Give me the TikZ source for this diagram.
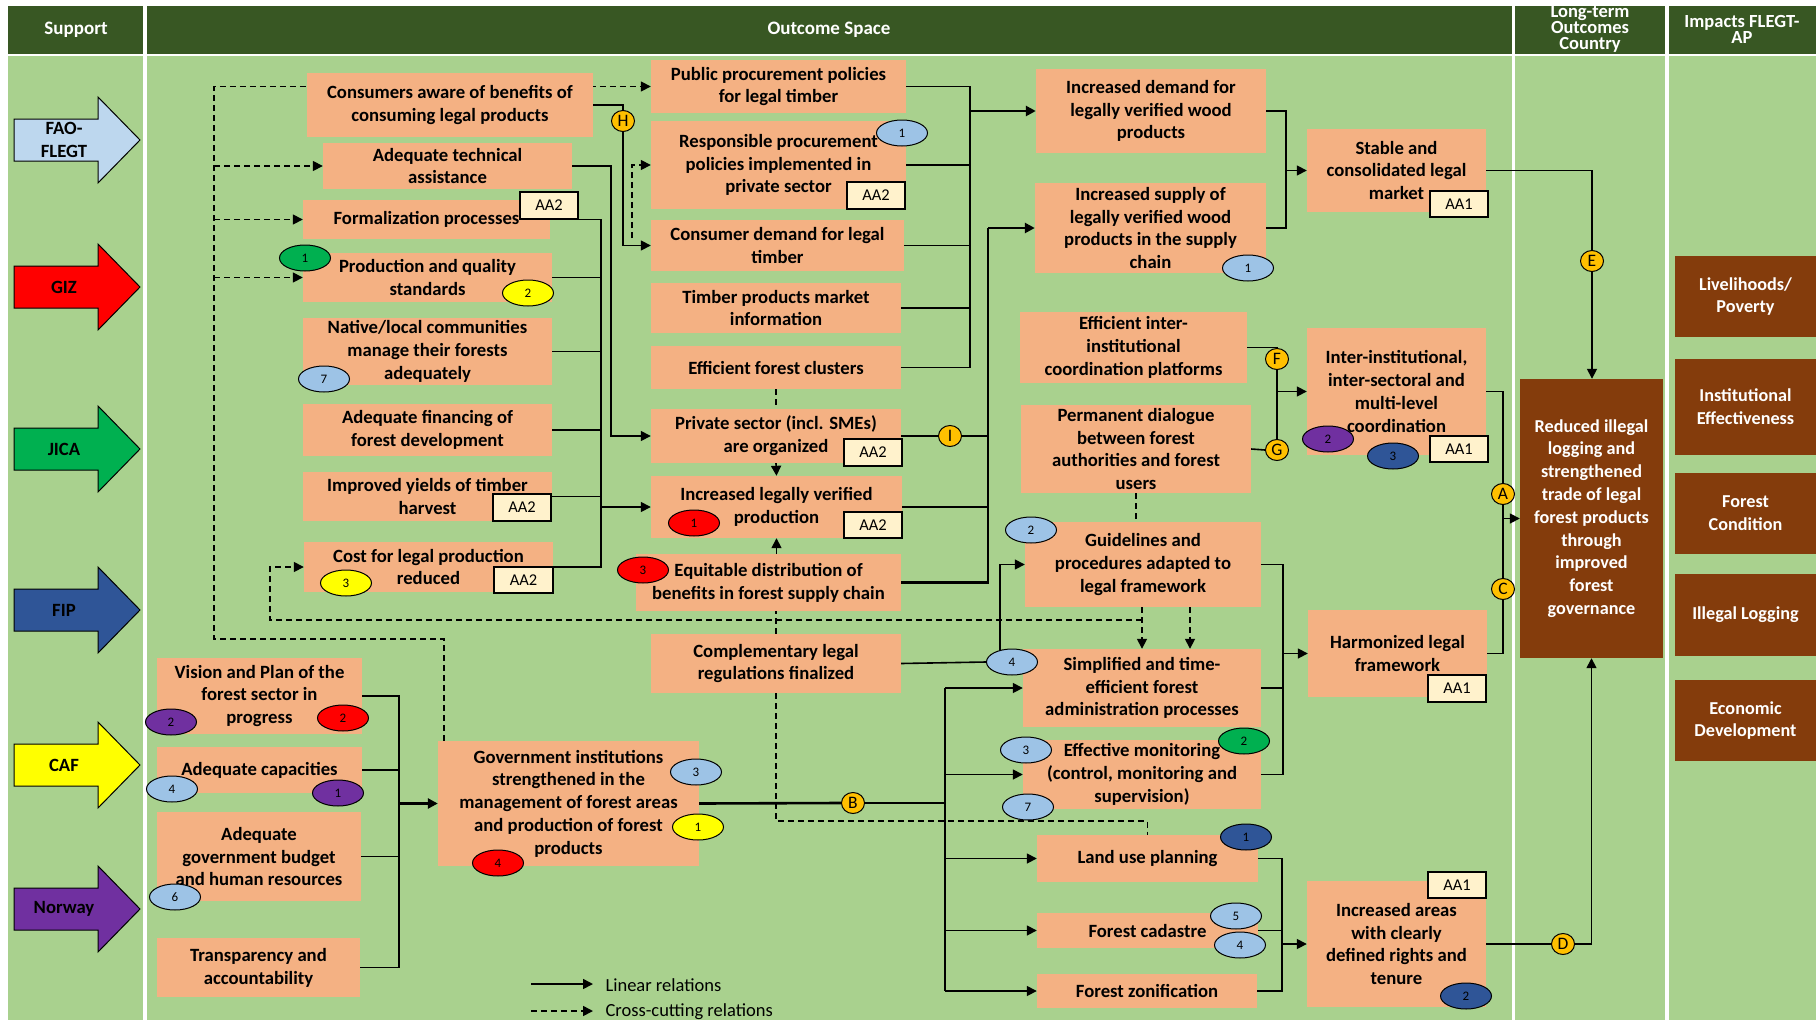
\documentclass[tikz,border=0pt]{standalone}
\usepackage{fontspec}
\setmainfont{Carlito}
\usetikzlibrary{arrows.meta,shapes.geometric,calc}
\definecolor{hdr}{HTML}{385723}
\definecolor{bodygreen}{HTML}{A9D18E}
\definecolor{salmon}{HTML}{F4B183}
\definecolor{brownbx}{HTML}{843C0C}
\definecolor{tagfill}{HTML}{FFF2CC}
\definecolor{faoblue}{HTML}{BDD7EE}
\definecolor{lb}{HTML}{9DC3E6}
\definecolor{gold}{HTML}{FFC000}
\definecolor{gizred}{HTML}{FF0000}
\definecolor{jicagreen}{HTML}{00B050}
\definecolor{fipblue}{HTML}{2F5597}
\definecolor{cafyellow}{HTML}{FFFF00}
\definecolor{norpurple}{HTML}{7030A0}
\pgfdeclarelayer{bg}
\pgfdeclarelayer{lines}
\pgfsetlayers{bg,lines,main}
\newcommand\bx[6]{\node[box,minimum width={#4-#2},minimum height={#5-#3}] (#1) at ({(#2+#4)/2},{(#3+#5)/2}) {#6};}
\newcommand\bb[6]{\node[brownbox,minimum width={#4-#2},minimum height={#5-#3}] (#1) at ({(#2+#4)/2},{(#3+#5)/2}) {#6};}
\newcommand\tg[6]{\node[tagbox,minimum width={#4-#2},minimum height={#5-#3}] (#1) at ({(#2+#4)/2},{(#3+#5)/2}) {#6};}
\newcommand\el[4]{\node[ell,fill=#2] (#1) at (#3) {#4};}
\newcommand\lt[3]{\node[ltr] (#1) at (#2) {#3};}
\newcommand\suparr[4]{%
  \fill[#3,draw=black,line width=1pt] (14,#2-21) -- (98,#2-21) -- (98,#2-43) -- (140,#2) -- (98,#2+43) -- (98,#2+21) -- (14,#2+21) -- cycle;
  \node[arrtext] (#1) at (64,#2) {#4};}
\begin{document}
\begin{tikzpicture}[x=1pt,y=-1pt,
  box/.style={fill=salmon,inner sep=0pt,align=center,text=black,font=\bfseries\fontsize{18.7}{22.8}\selectfont},
  brownbox/.style={fill=brownbx,inner sep=0pt,align=center,text=white,font=\bfseries\fontsize{18.2}{22.8}\selectfont},
  tagbox/.style={fill=tagfill,draw=black,line width=1.2pt,inner sep=0pt,font=\fontsize{16.5}{16}\selectfont},
  ell/.style={ellipse,draw=black,line width=1pt,minimum width=51pt,minimum height=26pt,inner sep=0pt,font=\fontsize{13}{13}\selectfont},
  ltr/.style={ellipse,draw=black,line width=1pt,fill=gold,minimum width=23pt,minimum height=21pt,inner sep=0pt,font=\fontsize{17.5}{17}\selectfont},
  hdrtext/.style={text=white,align=center,font=\bfseries\fontsize{19}{16}\selectfont},
  hdrsmall/.style={text=white,align=center,font=\bfseries\fontsize{18.5}{16}\selectfont},
  arrtext/.style={text=black,align=center,font=\bfseries\fontsize{18.7}{23}\selectfont},
  ln/.style={draw=black,line width=1.6pt},
  lnthick/.style={draw=black,line width=2.6pt},
  dl/.style={draw=black,line width=1.6pt,dash pattern=on 6pt off 4pt},
  arr/.style={-{Triangle[length=10pt,width=10pt]}},
  legtext/.style={text=black,font=\fontsize{18.5}{18}\selectfont}]
\useasboundingbox (0,0) rectangle (1816,1020);
\begin{pgfonlayer}{bg}
\fill[white] (0,0) rectangle (1816,1020);
\fill[hdr] (8,6) rectangle (143,54);
\fill[hdr] (147,6) rectangle (1512,54);
\fill[hdr] (1515,6) rectangle (1665,54);
\fill[hdr] (1669,6) rectangle (1816,54);
\fill[bodygreen] (8,56) rectangle (143,1020);
\fill[bodygreen] (147,56) rectangle (1512,1020);
\fill[bodygreen] (1515,56) rectangle (1665,1020);
\fill[bodygreen] (1669,56) rectangle (1816,1020);
\end{pgfonlayer}
% headers
\node[hdrtext] (hsup) at (76,30) {Support};
\node[hdrtext] (hout) at (829,30) {Outcome Space};
\node[hdrsmall] (hlong) at (1590,29) {Long-term\\Outcomes\\Country};
\node[hdrsmall] (himp) at (1742,29) {Impacts FLEGT-\\AP};
% support arrows
\suparr{sFAO}{140}{faoblue}{FAO-\\FLEGT}
\suparr{sGIZ}{287}{gizred}{GIZ}
\suparr{sJICA}{449}{jicagreen}{JICA}
\suparr{sFIP}{610}{fipblue}{FIP}
\suparr{sCAF}{765}{cafyellow}{CAF}
\suparr{sNOR}{909}{norpurple}{Norway}
% boxes
\bx{cons}{307}{73}{593}{137}{Consumers aware of benefits of\\consuming legal products}
\bx{adeqtech}{323}{143}{572}{189}{Adequate technical\\assistance}
\bx{formal}{303}{200}{550}{239}{Formalization processes}
\bx{prod}{303}{253}{552}{302}{Production and quality\\standards}
\bx{native}{303}{318}{552}{385}{Native/local communities\\manage their forests\\adequately}
\bx{fin}{303}{404}{552}{456}{Adequate financing of\\forest development}
\bx{yields}{303}{472}{552}{521}{Improved yields of timber\\harvest}
\bx{cost}{304}{542}{553}{592}{Cost for legal production\\reduced}
\bx{vision}{157}{658}{362}{734}{Vision and Plan of the\\forest sector in\\progress}
\bx{capac}{157}{747}{362}{793}{Adequate capacities}
\bx{budget}{157}{812}{361}{901}{Adequate\\government budget\\and human resources}
\bx{transp}{157}{938}{360}{997}{Transparency and\\accountability}
\bx{gov}{438}{741}{699}{866}{Government institutions\\strengthened in the\\management of forest areas\\and production of forest\\products}
\bx{pub}{651}{60}{906}{113}{Public procurement policies\\for legal timber}
\bx{resp}{651}{121}{906}{209}{Responsible procurement\\policies implemented in\\private sector}
\bx{cdem}{651}{220}{904}{271}{Consumer demand for legal\\timber}
\bx{timber}{651}{283}{901}{333}{Timber products market\\information}
\bx{clusters}{651}{346}{901}{389}{Efficient forest clusters}
\bx{privsec}{651}{409}{901}{463}{Private sector (incl. SMEs)\\are organized}
\bx{incprod}{651}{476}{902}{538}{Increased legally verified\\production}
\bx{equit}{636}{554}{901}{611}{Equitable distribution of\\benefits in forest supply chain}
\bx{comp}{651}{634}{901}{693}{Complementary legal\\regulations finalized}
\bx{incdem}{1036}{69}{1266}{153}{Increased demand for\\legally verified wood\\products}
\bx{incsup}{1035}{183}{1266}{273}{Increased supply of\\legally verified wood\\products in the supply\\chain}
\bx{stable}{1307}{129}{1486}{212}{Stable and\\consolidated legal\\market}
\bx{effint}{1020}{312}{1247}{383}{Efficient inter-\\institutional\\coordination platforms}
\bx{perm}{1021}{405}{1251}{493}{Permanent dialogue\\between forest\\authorities and forest\\users}
\bx{guide}{1025}{522}{1261}{607}{Guidelines and\\procedures adapted to\\legal framework}
\bx{simp}{1023}{649}{1261}{727}{Simplified and time-\\efficient forest\\administration processes}
\bx{effmon}{1023}{740}{1261}{809}{Effective monitoring\\(control, monitoring and\\supervision)}
\bx{land}{1037}{835}{1258}{882}{Land use planning}
\bx{cad}{1037}{913}{1258}{948}{Forest cadastre}
\bx{zon}{1037}{974}{1257}{1008}{Forest zonification}
\bx{inter}{1307}{328}{1486}{455}{Inter-institutional,\\inter-sectoral and\\multi-level\\coordination}
\bx{harm}{1308}{610}{1487}{697}{Harmonized legal\\framework}
\bx{incar}{1307}{881}{1486}{1007}{Increased areas\\with clearly\\defined rights and\\tenure}
\bb{reduced}{1520}{379}{1663}{658}{Reduced illegal\\logging and\\strengthened\\trade of legal\\forest products\\through\\improved\\forest\\governance}
\bb{imp1}{1675}{256}{1816}{337}{Livelihoods/\\Poverty}
\bb{imp2}{1675}{359}{1816}{455}{Institutional\\Effectiveness}
\bb{imp3}{1675}{473}{1816}{554}{Forest\\Condition}
\bb{imp4}{1675}{574}{1816}{656}{Illegal Logging}
\bb{imp5}{1675}{680}{1816}{761}{Economic\\Development}
% tags
\tg{tagF}{520}{192}{578}{219}{AA2}
\tg{tagR}{847}{182}{905}{209}{AA2}
\tg{tagY}{493}{494}{551}{521}{AA2}
\tg{tagC}{494}{567}{553}{593}{AA2}
\tg{tagP}{844}{439}{902}{466}{AA2}
\tg{tagI}{844}{512}{902}{538}{AA2}
\tg{tagS}{1430}{191}{1488}{217}{AA1}
\tg{tagInt}{1430}{436}{1488}{462}{AA1}
\tg{tagH}{1428}{675}{1486}{702}{AA1}
\tg{tagA}{1428}{872}{1486}{898}{AA1}
% ellipses
\el{eg1}{jicagreen}{305,258}{1}
\el{ey2}{cafyellow}{528,293}{2}
\el{elb7}{lb}{324,379}{7}
\el{ey3}{cafyellow}{346,583}{3}
\el{ep2}{norpurple}{171,722}{2}
\el{er2}{gizred}{343,718}{2}
\el{elb4}{lb}{172,789}{4}
\el{ep1}{norpurple}{338,793}{1}
\el{elb6}{lb}{175,897}{6}
\el{elb3g}{lb}{696,772}{3}
\el{ey1}{cafyellow}{698,827}{1}
\el{er4}{gizred}{498,863}{4}
\el{elb1r}{lb}{902,133}{1}
\el{er1}{gizred}{694,523}{1}
\el{er3}{gizred}{643,570}{3}
\el{elb1s}{lb}{1248,268}{1}
\el{elb2}{lb}{1031,530}{2}
\el{n4}{lb}{1012,662}{4}
\el{elb3m}{lb}{1026,750}{3}
\el{eg2}{jicagreen}{1244,741}{2}
\el{elb7m}{lb}{1028,807}{7}
\el{ed1}{fipblue}{1246,837}{1}
\el{elb5}{lb}{1236,916}{5}
\el{elb4c}{lb}{1240,945}{4}
\el{ep2i}{norpurple}{1328,439}{2}
\el{ed3}{fipblue}{1393,456}{3}
\el{ed2}{fipblue}{1466,996}{2}
% letter markers
\lt{H}{623,121}{H}
\lt{I}{950,436}{I}
\lt{B}{853,803}{B}
\lt{A}{1503,494}{A}
\lt{C}{1503,589}{C}
\lt{D}{1563,944}{D}
\lt{E}{1592,261}{E}
\lt{F}{1277,359}{F}
\lt{G}{1277,450}{G}
% helper coordinates
\coordinate (LB) at (214,639);
\coordinate (LT) at (214,86.5);
\coordinate (LV) at (214,0);
\coordinate (X601) at (601,0);
\coordinate (X970) at (970,0);
\coordinate (X988) at (988,0);
\coordinate (X1286) at (1286,0);
\coordinate (X1283) at (1283,0);
\coordinate (X1282) at (1282,0);
\coordinate (X945) at (945,0);
\coordinate (X399) at (399,0);
\coordinate (X1142) at (1142,0);
\coordinate (X1190) at (1190,0);
\coordinate (X1000) at (1000,0);
\coordinate (X270) at (270,0);
\coordinate (DJ) at (1142,620);
\coordinate (HD) at (632,238);
\coordinate (lg1a) at (531,984);
\coordinate (lg1b) at (593,984);
\coordinate (lg2a) at (531,1011);
\coordinate (lg2b) at (593,1011);
% legend
\node[legtext,anchor=west] (lgt1) at (602,985) {Linear relations};
\node[legtext,anchor=west] (lgt2) at (602,1012) {Cross-cutting relations};
\begin{pgfonlayer}{lines}
\draw[ln,arr] (lg1a) -- (lg1b);
\draw[dl,arr] (lg2a) -- (lg2b);
% H
\draw[ln] (cons.east) -| (H.north);
\draw[ln,arr] (H.south) |- (cdem.west);
\draw[dl,arr] (HD) |- (resp.west);
% big dashed loop
\draw[dl,arr] ($(gov.north west)+(6,0)$) |- (LB) -- (LT) -- (pub.west);
\draw[dl,arr] (adeqtech.west -| LV) -- (adeqtech.west);
\draw[dl,arr] (formal.west -| LV) -- (formal.west);
\draw[dl,arr] (prod.west -| LV) -- (prod.west);
% left -> private sector
\draw[ln,arr] (adeqtech.east) -| ($(privsec.west)+(-40,0)$) -- (privsec.west);
% left merge -> increased production
\draw[ln] (tagF.south east) -| (X601 |- cost.east) -- (cost.east);
\draw[ln] (prod.east) -- (prod.east -| X601);
\draw[ln] (native.east) -- (native.east -| X601);
\draw[ln] (fin.east) -- (fin.east -| X601);
\draw[ln] (yields.east) -- (yields.east -| X601);
\draw[ln,arr] (incprod.west -| X601) -- (incprod.west);
% middle -> increased demand
\draw[ln] (pub.east) -| (X970 |- clusters.east) -- (clusters.east);
\draw[ln] (resp.east) -- (resp.east -| X970);
\draw[ln] (cdem.east) -- (cdem.east -| X970);
\draw[ln] (timber.east) -- (timber.east -| X970);
\draw[lnthick,arr] (incdem.west -| X970) -- (incdem.west);
% private sector etc -> increased supply
\draw[ln] (privsec.east) -- (I.west);
\draw[ln] (I.east) -- (I.east -| X988);
\draw[ln] (incprod.east) -- (incprod.east -| X988);
\draw[lnthick] (equit.east) -| (X988 |- incsup.west);
\draw[lnthick,arr] (X988 |- incsup.west) -- (incsup.west);
% -> stable
\draw[ln] (incdem.east) -| (X1286 |- incsup.east) -- (incsup.east);
\draw[ln,arr] (stable.west -| X1286) -- (stable.west);
% stable -> E -> reduced
\draw[ln] (stable.east) -| (E.north);
\draw[ln,arr] (E.south) -- (E.south |- reduced.north);
% F, G
\draw[ln] (effint.east) -| (F.north);
\draw[ln] (F.south) -- (G.north);
\draw[ln] (perm.east) -- (G.west);
\draw[ln,arr] (inter.west -| F) -- (inter.west);
% A, C
\draw[ln] (inter.east) -| (A.north);
\draw[ln] (A.south) -- (C.north);
\draw[ln] (harm.east) -| (C.south);
\draw[ln,arr] (reduced.west -| A) -- (reduced.west);
% guidelines etc -> harmonized
\draw[ln] (guide.east) -| (X1283 |- effmon.east) -- (effmon.east);
\draw[ln] (simp.east) -- (simp.east -| X1283);
\draw[ln,arr] (harm.west -| X1283) -- (harm.west);
% government -> B -> admin outcomes
\draw[lnthick] (gov.east) -- (B.west);
\draw[lnthick] (B.east) -- (B.east -| X945);
\draw[ln] (X945 |- simp.west) -- (X945 |- zon.west);
\draw[ln,arr] (X945 |- simp.west) -- (simp.west);
\draw[ln,arr] (X945 |- effmon.west) -- (effmon.west);
\draw[ln,arr] (X945 |- land.west) -- (land.west);
\draw[ln,arr] (X945 |- cad.west) -- (cad.west);
\draw[ln,arr] (X945 |- zon.west) -- (zon.west);
% complementary -> guidelines
\draw[ln] (comp.east) -- (n4.west);
\draw[ln,arr] (X1000 |- n4.center) |- (guide.west);
% land use etc -> increased areas
\draw[ln] (land.east) -| (X1282 |- zon.east) -- (zon.east);
\draw[ln] (cad.east) -- (cad.east -| X1282);
\draw[ln,arr] (incar.west -| X1282) -- (incar.west);
% D
\draw[ln] (incar.east) -- (D.west);
\draw[ln,arr] (D.east) -| (reduced.south);
% left column -> government
\draw[ln] (vision.east) -| (X399 |- transp.east) -- (transp.east);
\draw[ln] (capac.east) -- (capac.east -| X399);
\draw[ln] (budget.east) -- (budget.east -| X399);
\draw[lnthick,arr] (gov.west -| X399) -- (gov.west);
% dashed middle relations
\draw[dl] (clusters.south) -- (privsec.north);
\draw[dl,arr] (privsec.south) -- (incprod.north);
\draw[dl,arr] (incprod.south |- equit.north) -- (incprod.south);
\draw[dl] (comp.north) -- (comp.north |- equit.south);
\draw[dl] (comp.south) -- ++(0,128) -| (land.north);
\draw[dl] (perm.south) -- (perm.south |- guide.north);
\draw[dl,arr] (X1142 |- guide.south) -- (X1142 |- simp.north);
\draw[dl,arr] (X1190 |- guide.south) -- (X1190 |- simp.north);
\draw[dl,arr] (DJ) -| (X270 |- cost.west) -- (cost.west);
\end{pgfonlayer}
\end{tikzpicture}
\end{document}
